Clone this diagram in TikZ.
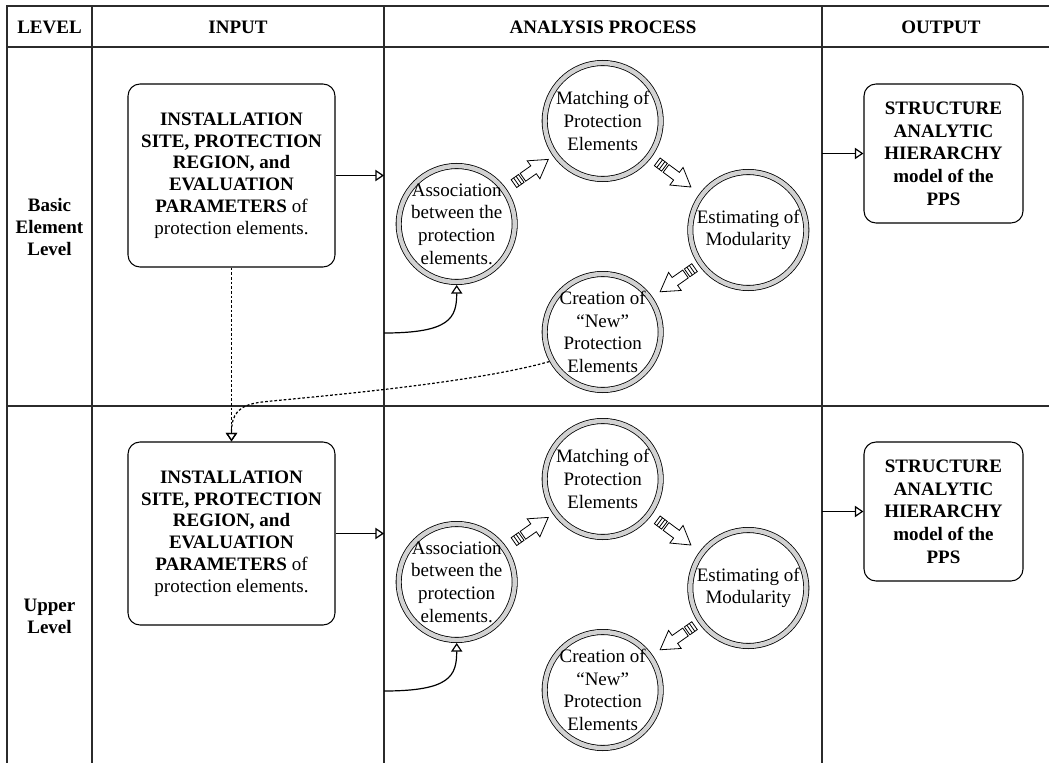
\documentclass[tikz,border=0pt]{standalone}
\usepackage{fontspec}
\setmainfont{Liberation Serif}
\usetikzlibrary{arrows.meta}
\definecolor{ln}{HTML}{2B2B2B}
\definecolor{ringfill}{HTML}{D2D2D2}
\begin{document}
\begin{tikzpicture}[x=0.75pt,y=-0.75pt,
  grid/.style={draw=ln, line width=1.5pt},
  hdr/.style={font=\fontsize{14.25}{16.5}\selectfont\bfseries, inner sep=0, align=center},
  inbox/.style={draw=black, line width=0.8pt, rounded corners=9pt, minimum width=155.25pt, minimum height=137.25pt, align=center, inner sep=0, font=\fontsize{14.25}{16.3}\selectfont},
  outbox/.style={draw=black, line width=0.8pt, rounded corners=9pt, minimum width=119.25pt, minimum height=104.25pt, align=center, inner sep=0, font=\fontsize{14.25}{17}\selectfont\bfseries},
  ring/.style={circle, draw=black, line width=0.6pt, double=ringfill, double distance=3.3pt, minimum size=87pt, inner sep=0, outer sep=2.25pt},
  ctext/.style={align=center, inner sep=0, font=\fontsize{14.25}{17}\selectfont},
  conn/.style={draw=black, line width=0.9pt, -{Triangle[open, length=6.5pt, width=8.5pt]}},
  dconn/.style={conn, dash pattern=on 2pt off 1.5pt},
  blockarr/.pic={
    \draw[black, line width=0.6pt, fill=white] (-21,-4.8) rectangle (-12,4.8);
    \draw[black, line width=0.6pt] (-18,-4.8) -- (-18,4.8) (-15,-4.8) -- (-15,4.8);
    \draw[black, line width=0.6pt, fill=white, line join=miter] (-10,-4.8) -- (3,-4.8) -- (3,-11) -- (21,0) -- (3,11) -- (3,4.8) -- (-10,4.8) -- cycle;
  }
]
\useasboundingbox (0,0) rectangle (1049,763);
\fill[white] (0,0) rectangle (1049,763);

% table grid
\draw[grid] (7,6) -- (1049,6);
\draw[grid] (7,47) -- (1049,47);
\draw[grid] (7,405.5) -- (1049,405.5);
\draw[grid] (7,5.25) -- (7,763);
\draw[grid] (92,6) -- (92,763);
\draw[grid] (384,6) -- (384,763);
\draw[grid] (822,6) -- (822,763);

% headers
\node[hdr] (hlevel) at (49.5,27) {LEVEL};
\node[hdr] (hinput) at (238,27) {INPUT};
\node[hdr] (hproc) at (603,27) {ANALYSIS PROCESS};
\node[hdr] (hout) at (941,27) {OUTPUT};
\node[hdr] (lvl1) at (49.5,227) {Basic\\Element\\Level};
\node[hdr] (lvl2) at (49.5,616) {Upper\\Level};

\foreach \r/\dy in {1/0, 2/358}{
  \node[inbox] (inbox\r) at (231.5,{175.5+\dy}) {\textbf{INSTALLATION}\\\textbf{SITE, PROTECTION}\\\textbf{REGION, and}\\\textbf{EVALUATION}\\\textbf{PARAMETERS} of\\protection elements.};
  \node[outbox] (outbox\r) at (943.5,{153.5+\dy}) {STRUCTURE\\ANALYTIC\\HIERARCHY\\model of the\\PPS};
  \node[ring] (assoc\r) at (456.7,{224+\dy}) {};
  \node[ring] (match\r) at (602.7,{121+\dy}) {};
  \node[ring] (estim\r) at (748.3,{230+\dy}) {};
  \node[ring] (creat\r) at (602.7,{332+\dy}) {};
  \node[ctext] (assoct\r) at (assoc\r) {Association\\between the\\protection\\elements.};
  \node[ctext] (matcht\r) at (match\r) {Matching of\\Protection\\Elements};
  \node[ctext] (estimt\r) at (estim\r) {Estimating of\\Modularity};
  \node[ctext] (creatt\r) at (creat\r) {Creation of\\“New”\\Protection\\Elements};
  \path (assoc\r) -- (match\r) pic[pos=0.53, sloped, allow upside down]{blockarr};
  \path (match\r) -- (estim\r) pic[pos=0.47, sloped, allow upside down]{blockarr};
  \path (estim\r) -- (creat\r) pic[pos=0.46, sloped, allow upside down]{blockarr};
  \coordinate (pin\r) at (384,{175.5+\dy});
  \coordinate (pout\r) at (822,{153.5+\dy});
  \coordinate (pc\r) at (384,{333+\dy});
  \draw[conn] (inbox\r.east) -- (pin\r);
  \draw[conn] (pout\r) -- (outbox\r.west);
  \draw[conn] (pc\r) .. controls (450,{333+\dy}) and (456.7,{318+\dy}) .. (assoc\r.south);
}

% dashed feedback connectors
\draw[dconn] (inbox1.south) -- (inbox2.north);
\draw[dconn] (creat1.209) .. controls (470,384) and (310,397) .. (262,402) .. controls (238,405) and (231.5,414) .. (inbox2.north);
\end{tikzpicture}
\end{document}
